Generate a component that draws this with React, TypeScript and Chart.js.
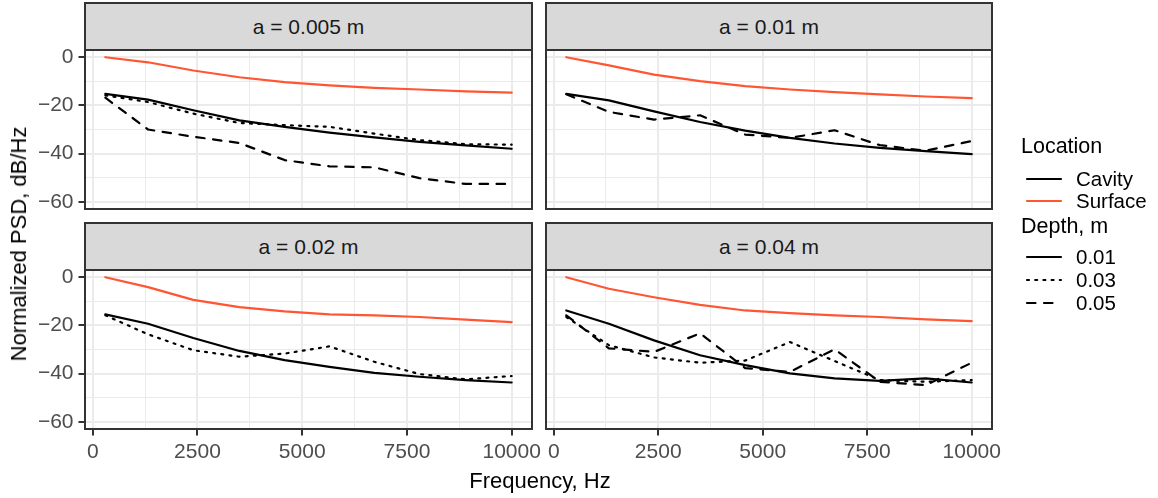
import React, { useEffect, useRef } from 'react';
import { Chart, registerables } from 'chart.js';

Chart.register(...registerables);

const FONT = "'Liberation Sans', Arial, Helvetica, sans-serif";

// ---------- data ----------
const frequency = [300, 1320, 2400, 3500, 4580, 5650, 6720, 7800, 8900, 10000];

const panelTitles = ['a = 0.005 m', 'a = 0.01 m', 'a = 0.02 m', 'a = 0.04 m'];

const surfaceA005 = [0, -2.1, -5.5, -8.3, -10.3, -11.7, -12.7, -13.4, -14.2, -14.7];
const cavityA005D001 = [-15.2, -17.6, -22.0, -26.2, -28.9, -31.3, -33.3, -35.1, -36.6, -38.0];
const cavityA005D003 = [-15.8, -18.6, -23.4, -27.3, -28.2, -28.9, -31.7, -34.4, -36.1, -36.3];
const cavityA005D005 = [-16.8, -30.0, -33.0, -35.6, -42.7, -45.3, -45.7, -50.2, -52.6, -52.6];

const surfaceA01 = [0, -3.4, -7.2, -9.9, -12.0, -13.4, -14.5, -15.4, -16.3, -17.0];
const cavityA01D001 = [-15.2, -17.9, -22.5, -26.9, -30.5, -33.5, -35.8, -37.6, -39.0, -40.2];
const cavityA01D005 = [-15.4, -22.7, -25.9, -24.1, -32.1, -33.5, -30.3, -36.5, -38.8, -34.8];

const surfaceA02 = [0, -4.1, -9.4, -12.4, -14.2, -15.4, -15.8, -16.5, -17.6, -18.6];
const cavityA02D001 = [-15.4, -19.3, -25.2, -30.6, -34.4, -37.2, -39.7, -41.3, -42.7, -43.7];
const cavityA02D003 = [-15.8, -23.7, -30.3, -33.0, -31.7, -28.7, -35.1, -40.2, -42.4, -41.0];

const surfaceA04 = [0, -4.8, -8.3, -11.5, -13.8, -14.9, -15.8, -16.5, -17.5, -18.2];
const cavityA04D001 = [-13.8, -19.3, -26.2, -32.4, -36.5, -39.9, -42.0, -43.0, -42.0, -43.7];
const cavityA04D003 = [-16.5, -28.2, -33.3, -35.5, -34.6, -26.9, -34.8, -42.7, -43.4, -42.7];
const cavityA04D005 = [-15.8, -29.5, -31.0, -23.3, -37.7, -39.3, -29.9, -43.4, -44.8, -35.5];

const xTickValues = [0, 1250, 2500, 3750, 5000, 6250, 7500, 8750, 10000];
const xMajorTicks = [0, 2500, 5000, 7500, 10000];
const yTickValues = [-60, -50, -40, -30, -20, -10, 0];
const yMajorTicks = [-60, -40, -20, 0];

const locationLabels = ['Cavity', 'Surface'];
const depthLabels = ['0.01', '0.03', '0.05'];

// ---------- styles ----------
const X_MIN = -185;
const X_MAX = 10485;
const Y_MIN = -63;
const Y_MAX = 3;

const SURFACE_COLOR = '#FF5533';
const CAVITY_COLOR = '#000000';
const LINE_W = 2.2;
const DASH = { solid: [] as number[], dotted: [2, 6.2], dashed: [8.5, 8.5] };

const TICK_FONT = 21;
const STRIP_FONT = 21;
const LEGEND_FONT = 20.5;
const LEGEND_TITLE_FONT = 21.5;
const TITLE_FONT = 22;

type PanelSpec = {
  title: string;
  x0: number; x1: number; y0: number; y1: number;
  showX: boolean; showY: boolean;
  surface: number[];
  d001: number[] | null;
  d003: number[] | null;
  d005: number[] | null;
};

const panels: PanelSpec[] = [
  { title: panelTitles[0], x0: 85, x1: 532, y0: 50, y1: 209, showX: false, showY: true,
    surface: surfaceA005, d001: cavityA005D001, d003: cavityA005D003, d005: cavityA005D005 },
  { title: panelTitles[1], x0: 546, x1: 992, y0: 50, y1: 209, showX: false, showY: false,
    surface: surfaceA01, d001: cavityA01D001, d003: null, d005: cavityA01D005 },
  { title: panelTitles[2], x0: 85, x1: 532, y0: 270, y1: 429, showX: true, showY: true,
    surface: surfaceA02, d001: cavityA02D001, d003: cavityA02D003, d005: null },
  { title: panelTitles[3], x0: 546, x1: 992, y0: 270, y1: 429, showX: true, showY: false,
    surface: surfaceA04, d001: cavityA04D001, d003: cavityA04D003, d005: cavityA04D005 },
];

const ML = 82, MR = 36, MT = 6, MB = 40;

const fmt = (v: number) => (v < 0 ? '\u2212' + Math.abs(v) : String(v));

const borderPlugin = {
  id: 'panelBorder',
  afterDatasetsDraw(chart: any) {
    const { ctx, chartArea: a } = chart;
    ctx.save();
    ctx.strokeStyle = '#333333';
    ctx.lineWidth = 2;
    ctx.strokeRect(a.left, a.top, a.right - a.left, a.bottom - a.top);
    ctx.restore();
  },
};

function PanelChart({ p }: { p: PanelSpec }) {
  const ref = useRef<HTMLCanvasElement>(null);
  const w = p.x1 - p.x0 + ML + MR;
  const h = p.y1 - p.y0 + MT + MB;

  useEffect(() => {
    const toPts = (arr: number[]) => frequency.map((f, i) => ({ x: f, y: arr[i] }));
    const ds: any[] = [];
    const add = (arr: number[] | null, color: string, dash: number[]) => {
      if (!arr) return;
      ds.push({
        data: toPts(arr),
        borderColor: color,
        borderWidth: LINE_W,
        borderDash: dash,
        borderCapStyle: 'round',
        borderJoinStyle: 'round',
        pointRadius: 0,
        fill: false,
        tension: 0,
      });
    };
    add(p.d005, CAVITY_COLOR, DASH.dashed);
    add(p.d003, CAVITY_COLOR, DASH.dotted);
    add(p.d001, CAVITY_COLOR, DASH.solid);
    add(p.surface, SURFACE_COLOR, DASH.solid);

    const chart = new Chart(ref.current!, {
      type: 'line',
      data: { datasets: ds },
      options: {
        animation: false,
        responsive: false,
        maintainAspectRatio: false,
        devicePixelRatio: 1,
        layout: {
          padding: { left: p.showY ? 0 : ML, right: MR, top: MT, bottom: p.showX ? 0 : MB },
        },
        plugins: { legend: { display: false }, tooltip: { enabled: false } },
        scales: {
          x: {
            type: 'linear',
            min: X_MIN,
            max: X_MAX,
            afterBuildTicks: (s: any) => { s.ticks = xTickValues.map((v) => ({ value: v })); },
            afterFit: (s: any) => { s.height = p.showX ? MB : 0; s.paddingLeft = 0; s.paddingRight = 0; },
            border: { display: false },
            grid: {
              color: '#EBEBEB',
              lineWidth: (c: any) => (xMajorTicks.includes(c.tick?.value) ? 2 : 1),
              drawTicks: p.showX,
              tickLength: 6.5,
              tickWidth: 2,
              tickColor: (c: any) => (xMajorTicks.includes(c.tick?.value) ? '#333333' : 'rgba(0,0,0,0)'),
            },
            ticks: {
              display: p.showX,
              autoSkip: false,
              maxRotation: 0,
              minRotation: 0,
              padding: 4,
              color: '#4D4D4D',
              font: { family: FONT, size: TICK_FONT },
              callback: (v: any) => (xMajorTicks.includes(v) ? fmt(v) : ''),
            },
          },
          y: {
            type: 'linear',
            min: Y_MIN,
            max: Y_MAX,
            afterBuildTicks: (s: any) => { s.ticks = yTickValues.map((v) => ({ value: v })); },
            afterFit: (s: any) => { s.width = p.showY ? ML : 0; s.paddingTop = 0; s.paddingBottom = 0; },
            border: { display: false },
            grid: {
              color: '#EBEBEB',
              lineWidth: (c: any) => (yMajorTicks.includes(c.tick?.value) ? 2 : 1),
              drawTicks: p.showY,
              tickLength: 6.5,
              tickWidth: 2,
              tickColor: (c: any) => (yMajorTicks.includes(c.tick?.value) ? '#333333' : 'rgba(0,0,0,0)'),
            },
            ticks: {
              display: p.showY,
              autoSkip: false,
              padding: 5,
              color: '#4D4D4D',
              font: { family: FONT, size: TICK_FONT },
              callback: (v: any) => (yMajorTicks.includes(v) ? fmt(v) : ''),
            },
          },
        },
      },
      plugins: [borderPlugin],
    } as any);
    return () => chart.destroy();
  }, []);

  return (
    <canvas
      ref={ref}
      width={w}
      height={h}
      style={{ position: 'absolute', left: p.x0 - ML, top: p.y0 - MT, width: w, height: h }}
    />
  );
}

function Strip({ p }: { p: PanelSpec }) {
  const top = p.y0 - 48;
  return (
    <div
      style={{
        position: 'absolute',
        left: p.x0 - 1,
        top,
        width: p.x1 - p.x0 + 2,
        height: 49,
        boxSizing: 'border-box',
        border: '2px solid #333333',
        background: '#D9D9D9',
        display: 'flex',
        alignItems: 'center',
        justifyContent: 'center',
        fontFamily: FONT,
        fontSize: STRIP_FONT,
        color: '#1A1A1A',
      }}
    >
      {p.title}
    </div>
  );
}

function KeyLine({ color, dash }: { color: string; dash: number[] }) {
  return (
    <svg width={40} height={22} style={{ display: 'block' }}>
      <line
        x1={3}
        y1={11}
        x2={37}
        y2={11}
        stroke={color}
        strokeWidth={LINE_W}
        strokeLinecap="round"
        strokeDasharray={dash.length ? dash.join(' ') : undefined}
      />
    </svg>
  );
}

function Legend() {
  const row = (label: string, color: string, dash: number[], y: number) => (
    <div key={label + y} style={{ position: 'absolute', left: 1024, top: y - 11, height: 22, display: 'flex', alignItems: 'center' }}>
      <KeyLine color={color} dash={dash} />
      <span style={{ marginLeft: 12, fontFamily: FONT, fontSize: LEGEND_FONT, color: '#000', whiteSpace: 'nowrap' }}>{label}</span>
    </div>
  );
  const title = (t: string, y: number) => (
    <div style={{ position: 'absolute', left: 1021, top: y - 12, height: 24, lineHeight: '24px', fontFamily: FONT, fontSize: LEGEND_TITLE_FONT, color: '#000', whiteSpace: 'nowrap' }}>{t}</div>
  );
  const depthDash = [DASH.solid, DASH.dotted, DASH.dashed];
  return (
    <>
      {title('Location', 146)}
      {row(locationLabels[0], CAVITY_COLOR, DASH.solid, 179)}
      {row(locationLabels[1], SURFACE_COLOR, DASH.solid, 201)}
      {title('Depth, m', 226)}
      {depthLabels.map((d, i) => row(d, '#000', depthDash[i], 257 + i * 23))}
    </>
  );
}

export default function App() {
  return (
    <div style={{ position: 'absolute', left: 0, top: 0, width: 1158, height: 498, background: '#fff', overflow: 'hidden' }}>
      {panels.map((p, i) => <PanelChart key={'c' + i} p={p} />)}
      {panels.map((p, i) => <Strip key={'s' + i} p={p} />)}
      <div
        style={{
          position: 'absolute', left: 19, top: 244,
          transform: 'translate(-50%, -50%) rotate(-90deg)',
          fontFamily: FONT, fontSize: TITLE_FONT, color: '#000', whiteSpace: 'nowrap',
        }}
      >
        Normalized PSD, dB/Hz
      </div>
      <div
        style={{
          position: 'absolute', left: 540, top: 481,
          transform: 'translate(-50%, -50%)',
          fontFamily: FONT, fontSize: TITLE_FONT, color: '#000', whiteSpace: 'nowrap',
        }}
      >
        Frequency, Hz
      </div>
      <Legend />
    </div>
  );
}
